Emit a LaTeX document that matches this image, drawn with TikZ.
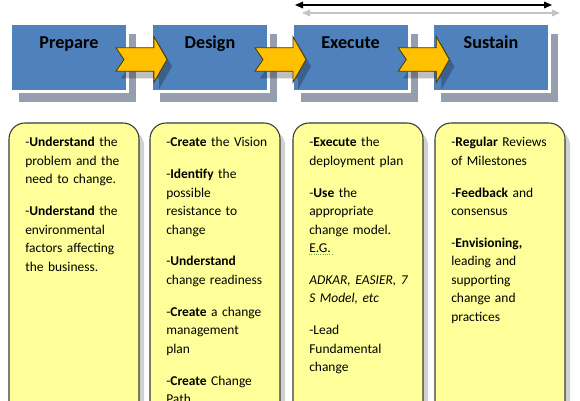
\documentclass[tikz,border=0pt]{standalone}
\usepackage{fontspec}
\setmainfont{Carlito}
\usetikzlibrary{arrows.meta,shadows}
\definecolor{phaseblue}{HTML}{4F81BD}
\definecolor{phaseshadow}{HTML}{959EAF}
\definecolor{arrowyellow}{HTML}{FFC000}
\definecolor{arrowedge}{HTML}{4A3A00}
\definecolor{cardyellow}{HTML}{FFFF99}
\definecolor{cardedge}{HTML}{3A3A3A}
\definecolor{spangrey}{HTML}{C4C4C4}
\definecolor{squiggle}{HTML}{6AA84F}
\tikzset{
  phasebox/.style={rectangle, minimum width=87.75pt, minimum height=51pt, inner sep=0pt,
    fill=phaseblue, draw=white, line width=2.25pt,
    drop shadow={shadow xshift=6.5pt, shadow yshift=-7.5pt, fill=phaseshadow, opacity=1}},
  phasetitle/.style={anchor=base, font=\fontsize{13.6pt}{16pt}\selectfont\bfseries, text=black, inner sep=0pt},
  card/.style={rectangle, rounded corners=12pt, minimum width=97.5pt, minimum height=240pt, inner sep=0pt,
    fill=cardyellow, draw=cardedge, line width=0.8pt,
    drop shadow={shadow xshift=3.8pt, shadow yshift=-5pt, fill=black!40, opacity=0.45}},
  cardtext/.style={anchor=north west, inner sep=0pt, text width=96pt, align=left,
    font=\fontsize{10.1pt}{13.875pt}\selectfont},
  flowbody/.style={fill=arrowyellow, draw=arrowedge, line width=0.6pt, line join=miter},
  flowshade/.style={fill=black, opacity=0.25},
  flow/.pic={
    \fill[flowshade] (5,54.7) -- (43,54.7) -- (43,43.7) -- (56,66.5) -- (43,89.3) -- (43,78.3) -- (5,78.3) -- (13,66.5) -- cycle;
    \draw[flowbody] (0,47.7) -- (38,47.7) -- (38,36.7) -- (51,59.5) -- (38,82.3) -- (38,71.3) -- (0,71.3) -- (8,59.5) -- cycle;
  },
  spanblack/.style={draw=black, line width=0.8pt, {Triangle[length=6pt,width=5pt]}-{Triangle[length=6pt,width=5pt]}},
  spangrey/.style={draw=spangrey, line width=1.1pt, {Triangle[length=6pt,width=5pt]}-{Triangle[length=6pt,width=5pt]}},
}
\begin{document}
\begin{tikzpicture}[x=0.75pt,y=-0.75pt]
\useasboundingbox (0,0) rectangle (580,400);
\clip (0,0) rectangle (580,400);
\fill[white] (0,0) rectangle (580,400);

% span arrows
\coordinate (sa1) at (295,5);
\coordinate (sa2) at (552,5);
\coordinate (sb1) at (302,13);
\coordinate (sb2) at (560,13);
\draw[spanblack] (sa1) -- (sa2);
\draw[spangrey] (sb1) -- (sb2);

% phase boxes
\node[phasebox] (prep) at (69,57.5) {};
\node[phasebox] (design) at (210,57.5) {};
\node[phasebox] (exec) at (350.5,57.5) {};
\node[phasebox] (sust) at (491,57.5) {};
\node[phasetitle] (prept) at (69,48) {Prepare};
\node[phasetitle] (designt) at (210,48) {Design};
\node[phasetitle] (exect) at (350.5,48) {Execute};
\node[phasetitle] (sustt) at (491,48) {Sustain};

% flow arrows
\pic at (116,0) {flow};
\pic at (255,0) {flow};
\pic at (398.3,0) {flow};

% cards
\node[card] (c1) at (74,283) {};
\node[card] (c2) at (215,283) {};
\node[card] (c3) at (358,283) {};
\node[card] (c4) at (500,283) {};

\node[cardtext] (t1) at (25,133.5) {\strut-\textbf{Understand} the\\ problem and the\\ need to change.\\[10pt]
 -\textbf{Understand} the\\ environmental\\ factors affecting\\ the business.};
\node[cardtext] (t2) at (166,133.5) {\strut-\textbf{Create} the Vision\\[10pt]
 -\textbf{Identify} the\\ possible\\ resistance to\\ change\\[10pt]
 -\textbf{Understand}\\ change readiness\\[10pt]
 -\textbf{Create} a change\\ management\\ plan\\[10pt]
 -\textbf{Create} Change\\ Path};
\node[cardtext] (t3) at (309,133.5) {\strut-\textbf{Execute} the\\ deployment plan\\[10pt]
 -\textbf{Use} the\\ appropriate\\ change model.\\ E.G.\\[10pt]
 \textit{ADKAR, EASIER, 7}\\ \textit{S Model, etc}\\[10pt]
 -Lead\\ Fundamental\\ change};
\node[cardtext] (t4) at (451,133.5) {\strut-\textbf{Regular} Reviews\\ of Milestones\\[10pt]
 -\textbf{Feedback} and\\ consensus\\[10pt]
 -\textbf{Envisioning,}\\ leading and\\ supporting\\ change and\\ practices};

\draw[squiggle, densely dotted, line width=0.7pt] (309,254) -- (333,254);
\end{tikzpicture}
\end{document}
